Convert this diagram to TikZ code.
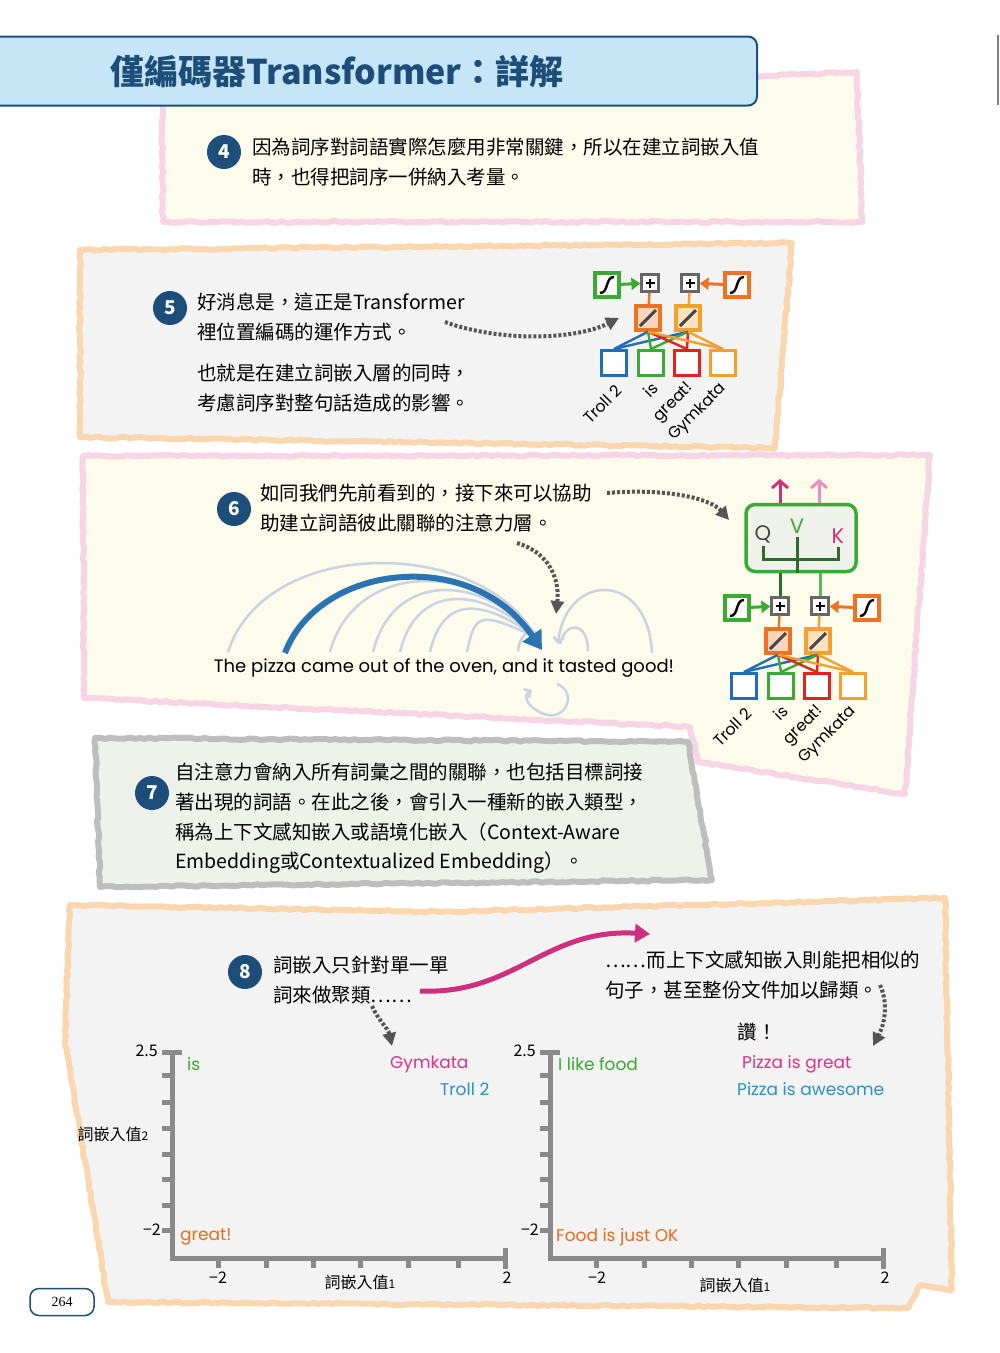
\documentclass[tikz,border=0pt]{standalone}
\usepackage{fontspec}
\setmainfont{Noto Sans CJK TC}
\newfontfamily\roundfont{Poppins}
\newfontfamily\pagefont{Liberation Serif}
\usetikzlibrary{positioning, arrows.meta, calc, decorations.pathmorphing}

\definecolor{navy}{HTML}{1D4E7A}
\definecolor{titlebg}{HTML}{C6E6F7}
\definecolor{creampanel}{HTML}{FDFBEB}
\definecolor{pinkedge}{HTML}{F7D5E5}
\definecolor{greypanel}{HTML}{F3F3F3}
\definecolor{peachedge}{HTML}{FBD7B0}
\definecolor{greenpanel}{HTML}{EEF2EA}
\definecolor{greyedge}{HTML}{BEBEBE}
\definecolor{netblue}{HTML}{1F6FB8}
\definecolor{netgreen}{HTML}{3BAA35}
\definecolor{netred}{HTML}{E2231A}
\definecolor{netorange}{HTML}{F5A02A}
\definecolor{darkorange}{HTML}{EE7320}
\definecolor{plusgrey}{HTML}{666666}
\definecolor{axisgrey}{HTML}{8A8A8A}
\definecolor{attngrey}{HTML}{C9D3E2}
\definecolor{attnblue}{HTML}{2B73B3}
\definecolor{magentaline}{HTML}{CF2F7C}
\definecolor{pinkarrow}{HTML}{F08CBF}
\definecolor{darkgreen}{HTML}{2F6B2C}
\definecolor{lightgreen}{HTML}{5CB85C}
\definecolor{lbgreen}{HTML}{3AA636}
\definecolor{lbmagenta}{HTML}{E0308A}
\definecolor{lbblue}{HTML}{2A8ED0}
\definecolor{lborange}{HTML}{EA6A1E}
\definecolor{dotgrey}{HTML}{555555}
\definecolor{qgrey}{HTML}{444444}

\newcommand{\bodyfont}{\fontsize{19.5}{29.7}\selectfont}

% embedding network: #1 name prefix, #2 centre of the first plus box
\newcommand{\embnet}[2]{%
  \begin{scope}[shift={#2}]
    \node[plusbox] (#1p1) at (0,0) {};
    \node[plusbox] (#1p2) at (40,0) {};
    \node[sigbox, draw=netgreen] (#1s1) at (-43,2) {};
    \node[sigbox, draw=darkorange] (#1s2) at (87,2) {};
    \node[slashbox, draw=darkorange, fill=darkorange!30] (#1l1) at (-2,35) {};
    \node[slashbox, draw=netorange, fill=netorange!30] (#1l2) at (38,35) {};
    \node[wordbox, draw=netblue] (#1w1) at (-36,80) {};
    \node[wordbox, draw=netgreen] (#1w2) at (1,80) {};
    \node[wordbox, draw=netred] (#1w3) at (37,80) {};
    \node[wordbox, draw=netorange] (#1w4) at (73,80) {};
  \end{scope}
  \draw[feed, netgreen] (#1s1) -- (#1p1);
  \draw[feed, darkorange] (#1s2) -- (#1p2);
  \draw[wire, darkorange] (#1p1) -- (#1l1);
  \draw[wire, netorange] (#1p2) -- (#1l2);
  \foreach \w/\c in {1/netblue, 2/netgreen, 3/netred, 4/netorange} {
    \draw[wire, \c] (#1w\w.north) -- (#1l1.south);
    \draw[wire, \c] (#1w\w.north) -- (#1l2.south);
  }
  \node[wordlbl] (#1t1) at ([shift={(5,11)}]#1w1.south) {Troll 2};
  \node[wordlbl] (#1t2) at ([shift={(4,8)}]#1w2.south) {is};
  \node[wordlbl] (#1t3) at ([shift={(4,9)}]#1w3.south) {great!};
  \node[wordlbl] (#1t4) at ([shift={(1,9)}]#1w4.south) {Gymkata};
}

% chart axes: #1 top of the vertical axis
\newcommand{\embaxes}[1]{%
  \begin{scope}[shift={#1}]
    \draw[axisline] (-10,0) -- (10,0);
    \draw[axisline] (0,0) -- (0,206) -- (333,206);
    \draw[axisline] (333,196) -- (333,217);
    \foreach \ty in {23,50,76,102,127,153,178}
      \draw[tickline] (-10,\ty) -- (0,\ty);
    \foreach \tx in {46,94,141,188,236,286}
      \draw[tickline] (\tx,206) -- (\tx,216);
  \end{scope}}

\begin{document}
\begin{tikzpicture}[
  x=1pt, y=-1pt,
  >=Stealth,
  panel/.style={line width=6pt, line join=round, decorate,
    decoration={random steps, segment length=5pt, amplitude=0.9pt}},
  numdot/.style={circle, fill=navy, text=white, minimum size=34pt, inner sep=0pt,
    font=\fontsize{19}{19}\selectfont\bfseries},
  body/.style={anchor=north west, align=left, inner sep=0pt, font=\bodyfont},
  sigbox/.style={draw, line width=3.5pt, fill=white, minimum size=24pt, inner sep=0pt,
    path picture={\draw[line width=2.4pt, black]
      ([shift={(-7,8)}]path picture bounding box.center) .. controls +(9,0) and +(-9,0) ..
      ([shift={(7,-8)}]path picture bounding box.center);}},
  plusbox/.style={draw=plusgrey, line width=2.2pt, fill=white, minimum size=17pt, inner sep=0pt,
    path picture={\draw[line width=1.8pt, black]
      ([xshift=-4.5pt]path picture bounding box.center) -- ([xshift=4.5pt]path picture bounding box.center)
      ([yshift=-4.5pt]path picture bounding box.center) -- ([yshift=4.5pt]path picture bounding box.center);}},
  slashbox/.style={draw, line width=3.5pt, minimum size=24pt, inner sep=0pt,
    path picture={\draw[line width=3pt, gray!55!black]
      ([shift={(-8,8)}]path picture bounding box.center) --
      ([shift={(8,-8)}]path picture bounding box.center);}},
  wordbox/.style={draw, line width=3pt, fill=white, minimum size=25pt, inner sep=0pt},
  wordlbl/.style={rotate=45, anchor=east, inner sep=0pt,
    font=\roundfont\fontsize{16}{16}\selectfont},
  feed/.style={line width=3pt, -{Triangle[length=9pt, width=12pt]}},
  wire/.style={line width=2.4pt},
  dotarr/.style={dotgrey, line width=4pt, dash pattern=on 3pt off 2pt,
    -{Triangle[length=13pt, width=13pt]}},
  outarr/.style={line width=3pt, -{Straight Barb[length=7pt, width=16pt]}},
  branch/.style={darkgreen, line width=3pt},
  attn/.style={attngrey, line width=2.5pt},
  axisline/.style={axisgrey, line width=5pt},
  tickline/.style={axisgrey, line width=5pt},
  numlbl/.style={inner sep=0pt, font=\fontsize{16}{16}\selectfont},
  cword/.style={anchor=west, inner sep=0pt, font=\roundfont\fontsize{17}{17}\selectfont},
]
\useasboundingbox (0,0) rectangle (1000,1353);
\fill[white] (0,0) rectangle (1000,1353);

% === panel backgrounds ===
\draw[panel, draw=pinkedge, fill=creampanel]
  (162,100) -- (857,72) -- (862,222) -- (163,222) -- cycle;
\draw[panel, draw=peachedge, fill=greypanel]
  (80,250) -- (792,243) -- (775,448) -- (80,437) -- cycle;
\draw[panel, draw=pinkedge, fill=creampanel]
  (83,456) -- (930,455) -- (905,794) -- (698,762) -- (690,727) -- (84,698) -- cycle;
\draw[panel, draw=greyedge, fill=greenpanel]
  (95,738) -- (688,742) -- (712,880) -- (100,887) -- cycle;
\draw[panel, draw=peachedge, fill=greypanel]
  (70,905) -- (440,912) -- (945,898) -- (952,1290) -- (920,1285) -- (908,1308)
  -- (108,1302) -- (65,1040) -- cycle;

% === title ===
\node[draw=navy, line width=2pt, fill=titlebg, rounded corners=9pt,
  minimum width=790pt, minimum height=69pt] (titlebar) at (362,71) {};
\node[text=navy, font=\fontsize{34}{34}\selectfont\bfseries] (titletxt) at (337,72)
  {僅編碼器Transformer：詳解};
\draw[gray, line width=1.5pt] (998,35) -- (998,105);

% === step 4 ===
\node[numdot] (n4) at (224,152) {4};
\node[body] (t4) at (252,138)
  {因為詞序對詞語實際怎麼用非常關鍵，所以在建立詞嵌入值\\時，也得把詞序一併納入考量。};

% === step 5 ===
\node[numdot] (n5) at (170,308) {5};
\node[body] (t5a) at (197,293) {好消息是，這正是Transformer\\裡位置編碼的運作方式。};
\node[body] (t5b) at (197,364) {也就是在建立詞嵌入層的同時，\\考慮詞序對整句話造成的影響。};
\embnet{ea}{(650,283)}
\coordinate (d5a) at (445,322);
\coordinate (d5b) at (619,318);
\draw[dotarr] (d5a) .. controls (500,342) and (575,340) .. (d5b);

% === step 6 ===
\node[numdot] (n6) at (234,509) {6};
\node[body] (t6) at (260,484) {如同我們先前看到的，接下來可以協助\\助建立詞語彼此關聯的注意力層。};
\embnet{eb}{(780,606)}
\node[draw=netgreen, line width=3.5pt, fill=greenpanel, rounded corners=9pt,
  minimum width=110pt, minimum height=67pt] (qvk) at (801,538) {};
\node[text=qgrey, font=\roundfont\fontsize{21}{21}\selectfont] (qq) at (763,534) {Q};
\node[text=netgreen, font=\roundfont\fontsize{21}{21}\selectfont] (qv) at (797,526) {V};
\node[text=magentaline, font=\roundfont\fontsize{21}{21}\selectfont] (qk) at (838,536) {K};
\draw[branch] (qq.south) -- ++(0,13) -| (qk.south);
\draw[branch] (qv.south) -- (qv.south |- qvk.south);
\draw[line width=3pt, darkgreen] (ebp1) -- (ebp1 |- qvk.south);
\draw[line width=3pt, lightgreen] (ebp2) -- (ebp2 |- qvk.south);
\coordinate (qo1) at (780,479);
\coordinate (qo2) at (819,479);
\draw[outarr, magentaline] (qo1 |- qvk.north) -- (qo1);
\draw[outarr, pinkarrow] (qo2 |- qvk.north) -- (qo2);
\coordinate (d6a) at (607,493);
\coordinate (d6b) at (729,520);
\draw[dotarr] (d6a) .. controls (665,488) and (710,498) .. (d6b);

% attention over the sentence
\node[inner sep=0pt, font=\roundfont\fontsize{18}{18}\selectfont] (pizza) at (444,668)
  {The pizza came out of the oven, and it tasted good!};
\coordinate (itword) at (536,637);
\foreach \s/\c in {228/536, 330/560, 373/572, 400/584, 430/597, 467/612}
  \draw[attn] (\s,652) .. controls ({\s+0.12*(536-\s)},\c) and (480,\c) .. (itword);
\draw[attn] (518,651) .. controls (520,628) and (540,628) .. (itword);
\draw[attn, -{Straight Barb[length=5pt, width=10pt]}] (652,653) .. controls (648,570) and (566,572) .. (558,644);
\draw[attn] (588,651) .. controls (588,622) and (566,620) .. (560,644);
\draw[attn, -{Straight Barb[length=5pt, width=10pt]}] (557,684) .. controls (578,692) and (566,722) .. (544,714)
  .. controls (528,708) and (522,696) .. (532,690);
\coordinate (blue0) at (285,653);
\coordinate (blue1) at (542,650);
\draw[attnblue, line width=6pt, -{Triangle[length=18pt, width=22pt]}]
  (blue0) .. controls (318,565) and (470,545) .. (blue1);
\coordinate (d6c) at (517,543);
\coordinate (d6d) at (556,614);
\draw[dotarr] (d6c) .. controls (548,552) and (560,578) .. (d6d);

% === step 7 ===
\node[numdot] (n7) at (152,793) {7};
\node[body] (t7) at (175,763)
  {自注意力會納入所有詞彙之間的關聯，也包括目標詞接\\著出現的詞語。在此之後，會引入一種新的嵌入類型，\\稱為上下文感知嵌入或語境化嵌入（Context-Aware\\Embedding或Contextualized Embedding）。};

% === step 8 ===
\node[numdot] (n8) at (245,972) {8};
\node[body] (t8a) at (273,956) {詞嵌入只針對單一單\\詞來做聚類……};
\node[body] (t8b) at (605,951) {……而上下文感知嵌入則能把相似的\\句子，甚至整份文件加以歸類。};
\node[inner sep=0pt, font=\bodyfont] (wow) at (757,1032) {讚！};
\coordinate (s8a) at (420,991);
\coordinate (s8b) at (650,934);
\draw[magentaline, line width=5pt, -{Triangle[length=15pt, width=18pt]}]
  (s8a) .. controls (515,995) and (545,928) .. (s8b);
\coordinate (d8a) at (372,1006);
\coordinate (d8b) at (392,1046);
\draw[dotarr] (d8a) .. controls (378,1020) and (388,1028) .. (d8b);
\coordinate (d8c) at (880,985);
\coordinate (d8d) at (873,1046);
\draw[dotarr] (d8c) .. controls (889,1005) and (884,1025) .. (d8d);

% word-embedding chart
\embaxes{(172,1052)}
\node[numlbl, anchor=east] (ya1) at (158,1051) {2.5};
\node[numlbl, anchor=east] (yb1) at (161,1230) {−2};
\node[numlbl] (xa1) at (218,1278) {−2};
\node[numlbl] (xb1) at (507,1278) {2};
\node[numlbl] (xt1) at (360,1282) {詞嵌入值{\fontsize{12}{12}\selectfont 1}};
\node[numlbl] (yt1) at (113,1134) {詞嵌入值{\fontsize{12}{12}\selectfont 2}};
\node[cword, text=lbgreen] (wis) at (187,1064) {is};
\node[cword, text=lbmagenta] (wgym) at (390,1064) {Gymkata};
\node[cword, text=lbblue] (wtroll) at (440,1089) {Troll 2};
\node[cword, text=lborange] (wgreat) at (180,1237) {great!};

% contextual-embedding chart
\embaxes{(550,1052)}
\node[numlbl, anchor=east] (ya2) at (536,1051) {2.5};
\node[numlbl, anchor=east] (yb2) at (539,1230) {−2};
\node[numlbl] (xa2) at (597,1278) {−2};
\node[numlbl] (xb2) at (885,1278) {2};
\node[numlbl] (xt2) at (735,1285) {詞嵌入值{\fontsize{12}{12}\selectfont 1}};
\node[cword, text=lbgreen] (slike) at (558,1064) {I like food};
\node[cword, text=lbmagenta] (sgreat) at (742,1064) {Pizza is great};
\node[cword, text=lbblue] (sawe) at (737,1089) {Pizza is awesome};
\node[cword, text=lborange] (sok) at (556,1237) {Food is just OK};

% page number
\node[draw=navy, line width=1.5pt, rounded corners=9pt, minimum width=64pt,
  minimum height=27pt, font=\pagefont\fontsize{14}{14}\selectfont] (pageno) at (62,1302) {264};
\end{tikzpicture}
\end{document}
